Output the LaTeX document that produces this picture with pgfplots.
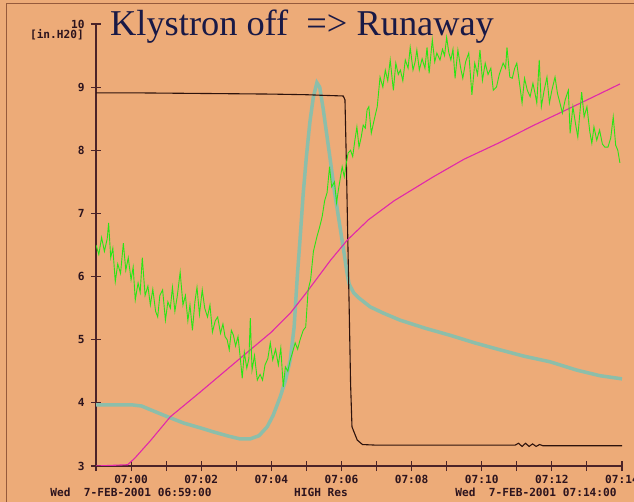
\documentclass[border=0pt]{standalone}
\usepackage{pgfplots}
\pgfplotsset{compat=1.18}
\usepackage{fontspec}
\setmainfont{Liberation Serif}
\setmonofont{DejaVu Sans Mono}
\definecolor{bg}{RGB}{237,171,120}
\definecolor{framecol}{RGB}{150,90,60}
\definecolor{axiscol}{RGB}{75,35,40}
\definecolor{labcol}{RGB}{45,20,30}
\definecolor{titlecol}{RGB}{25,25,70}
\definecolor{klycol}{RGB}{45,18,12}
\definecolor{dpcol}{RGB}{140,190,170}
\definecolor{magcol}{RGB}{225,40,170}
\definecolor{grncol}{RGB}{40,230,20}
\newcommand{\labfont}{\ttfamily\bfseries\fontsize{11.2}{12}\selectfont}
\begin{document}
\begin{tikzpicture}
\useasboundingbox (0,0) rectangle (634bp,502bp);
\fill[bg] (0,0) rectangle (634bp,502bp);
\draw[framecol, line width=0.8bp] (6bp,0) -- (6bp,499bp) -- (634bp,499bp);
\begin{axis}[
    at={(96bp,36bp)}, anchor=south west,
    scale only axis, width=526bp, height=442bp,
    xmin=-1, xmax=14, ymin=3, ymax=10,
    axis x line=bottom, axis y line=left,
    axis line style={-, draw=axiscol, line width=1.1bp},
    xtick={0,2,...,14},
    xticklabels={07:00,07:02,07:04,07:06,07:08,07:10,07:12,07:14},
    minor xtick={-1,1,...,13},
    ytick={3,...,10},
    yticklabels={3,4,5,6,7,8,9,10},
    tick align=center,
    major tick length=10bp, minor tick length=10bp,
    tick style={draw=axiscol, line width=1.1bp},
    ticklabel style={font=\labfont, text=labcol},
    yticklabel style={xshift=-3bp},
    xticklabel style={yshift=-1bp},
]
% differential pressure (thick grey-cyan)
\addplot[draw=dpcol, line width=3.5bp] coordinates {
(-1,3.97)(-0.5,3.97)(0,3.97)(0.3,3.95)(0.6,3.88)(1.04,3.78)(1.5,3.68)(2.0,3.6)
(2.35,3.54)(2.8,3.47)(3.1,3.43)(3.4,3.43)(3.65,3.48)(3.88,3.62)(4.05,3.8)(4.25,4.09)
(4.4,4.35)(4.54,4.68)(4.65,5.2)(4.74,6.0)(4.82,6.6)(4.91,7.32)(5.0,7.9)(5.1,8.45)
(5.2,8.85)(5.3,9.07)(5.38,9.0)(5.48,8.65)(5.58,8.25)(5.68,7.85)(5.8,7.35)(5.96,6.78)
(6.08,6.35)(6.16,6.05)(6.22,5.88)(6.35,5.74)(6.5,5.66)(6.82,5.52)(7.2,5.42)(7.67,5.31)
(8.4,5.18)(9.1,5.07)(9.8,4.95)(10.52,4.84)(11.2,4.74)(11.95,4.65)(12.7,4.52)(13.37,4.43)(14,4.38)
};
% klystron
\addplot[draw=klycol, line width=1.1bp] coordinates {
(-1,8.91)(0,8.91)(2,8.90)(4,8.89)(5,8.88)(5.5,8.87)(6.05,8.86)(6.1,8.80)
(6.14,7.8)(6.18,6.6)(6.22,5.5)(6.26,4.3)(6.3,3.62)(6.45,3.41)(6.6,3.34)(7,3.33)
(10.95,3.33)(11.05,3.36)(11.15,3.31)(11.25,3.36)(11.35,3.31)(11.45,3.35)(11.55,3.31)
(11.65,3.34)(11.75,3.32)(14,3.32)
};
% magenta
\addplot[draw=magcol, line width=1.1bp] coordinates {
(-1,3.0)(-0.1,3.02)(0.1,3.12)(0.55,3.4)(1.12,3.78)(1.97,4.17)(3.1,4.7)(4.0,5.12)
(4.54,5.42)(5.02,5.76)(5.69,6.26)(6.17,6.58)(6.77,6.9)(7.5,7.2)(8.62,7.58)(9.5,7.86)
(10.5,8.12)(11.5,8.4)(12.41,8.64)(13.2,8.85)(13.94,9.05)
};
% green (noisy)
\addplot[draw=grncol, line width=0.9bp] coordinates {
(-1.00,6.50)(-0.92,6.35)(-0.84,6.62)(-0.76,6.40)(-0.68,6.60)(-0.64,6.85)(-0.58,6.30)
(-0.52,6.45)(-0.45,5.92)(-0.38,6.20)(-0.30,6.05)(-0.22,6.53)(-0.15,6.10)(-0.08,6.30)
(0.00,5.95)(0.06,6.15)(0.12,5.63)(0.20,5.90)(0.26,5.75)(0.32,6.30)(0.40,5.70)(0.48,5.85)
(0.55,5.55)(0.62,5.80)(0.70,5.45)(0.76,5.36)(0.82,5.70)(0.90,5.79)(0.98,5.31)(1.05,5.60)
(1.12,5.50)(1.18,5.83)(1.25,5.45)(1.32,5.70)(1.40,6.07)(1.48,5.55)(1.55,5.70)(1.62,5.30)
(1.68,5.55)(1.75,5.15)(1.82,5.60)(1.88,5.83)(1.95,5.40)(2.03,5.79)(2.10,5.50)(2.18,5.36)
(2.25,5.55)(2.32,5.12)(2.40,5.30)(2.47,5.36)(2.55,5.10)(2.62,5.25)(2.68,5.05)(2.74,5.00)
(2.80,4.84)(2.86,5.15)(2.92,5.07)(2.98,4.90)(3.05,5.05)(3.12,4.68)(3.17,4.39)(3.23,4.80)
(3.30,4.55)(3.36,4.70)(3.40,5.34)(3.45,4.52)(3.52,4.75)(3.60,4.36)(3.68,4.45)(3.75,4.36)
(3.82,4.60)(3.90,4.70)(3.97,4.95)(4.04,4.68)(4.12,4.85)(4.20,4.60)(4.27,4.87)(4.34,4.25)
(4.40,4.57)(4.47,4.50)(4.54,4.68)(4.60,4.79)(4.68,4.95)(4.75,4.85)(4.82,5.00)(4.91,5.15)
(4.98,5.20)(5.05,5.79)(5.12,5.95)(5.20,6.40)(5.30,6.63)(5.38,6.79)(5.45,6.95)(5.52,7.20)
(5.59,7.33)(5.66,7.74)(5.72,7.42)(5.80,7.50)(5.86,7.17)(5.92,7.40)(6.02,7.74)(6.08,7.58)
(6.14,7.80)(6.19,7.96)(6.26,8.00)(6.32,7.90)(6.38,8.15)(6.44,8.37)(6.50,8.05)(6.56,8.20)
(6.62,8.40)(6.68,8.35)(6.73,8.64)(6.78,8.69)(6.85,8.27)(6.92,8.45)(7.02,8.69)(7.10,9.16)
(7.18,9.00)(7.25,9.27)(7.32,9.10)(7.39,9.43)(7.48,8.95)(7.55,9.38)(7.62,9.20)(7.68,9.27)
(7.75,9.10)(7.82,9.43)(7.90,9.30)(7.96,9.63)(8.04,9.27)(8.10,9.40)(8.15,9.59)(8.22,9.27)
(8.30,9.45)(8.38,9.30)(8.44,9.63)(8.50,9.22)(8.59,9.75)(8.66,9.40)(8.72,9.54)(8.81,9.43)
(8.88,9.60)(8.94,9.50)(9.00,9.79)(9.06,9.55)(9.12,9.43)(9.18,9.60)(9.24,9.14)(9.32,9.59)
(9.40,9.30)(9.46,9.14)(9.54,9.40)(9.63,9.54)(9.72,8.88)(9.80,9.38)(9.88,9.20)(9.95,9.59)
(10.02,9.11)(10.10,9.38)(10.18,9.20)(10.26,9.30)(10.33,8.95)(10.42,9.00)(10.50,9.20)(10.61,9.38)
(10.68,9.30)(10.72,9.63)(10.80,9.16)(10.87,9.14)(10.94,9.30)(11.00,9.38)(11.08,9.05)(11.15,8.75)
(11.22,9.14)(11.30,8.95)(11.38,8.85)(11.46,9.06)(11.52,8.90)(11.57,8.75)(11.64,9.43)(11.70,8.69)
(11.78,8.95)(11.86,9.16)(11.93,8.75)(12.00,8.95)(12.09,9.16)(12.16,8.90)(12.23,8.75)(12.30,8.59)
(12.38,8.80)(12.47,8.95)(12.52,8.27)(12.60,8.69)(12.68,8.40)(12.74,8.21)(12.80,8.60)(12.85,8.92)
(12.92,8.53)(13.00,8.69)(13.08,8.30)(13.14,8.11)(13.20,8.37)(13.28,8.16)(13.36,8.32)(13.44,8.10)
(13.51,8.05)(13.60,8.05)(13.68,8.20)(13.75,8.53)(13.82,8.08)(13.88,8.00)(13.94,7.80)
};
\end{axis}
\node[anchor=base west, font=\fontsize{36.5}{40}\selectfont, text=titlecol, inner sep=0pt]
  at (110bp,466bp) {Klystron off\ \ =>\ Runaway};
\node[anchor=east, font=\labfont, text=labcol, inner sep=0pt]
  at (84bp,467bp) {[in.H20]};
\node[font=\labfont, text=labcol, inner sep=0pt]
  at (131bp,10bp) {Wed\ \ 7-FEB-2001 06:59:00};
\node[font=\labfont, text=labcol, inner sep=0pt]
  at (321bp,10bp) {HIGH Res};
\node[font=\labfont, text=labcol, inner sep=0pt]
  at (536bp,10bp) {Wed\ \ 7-FEB-2001 07:14:00};
\end{tikzpicture}
\end{document}
